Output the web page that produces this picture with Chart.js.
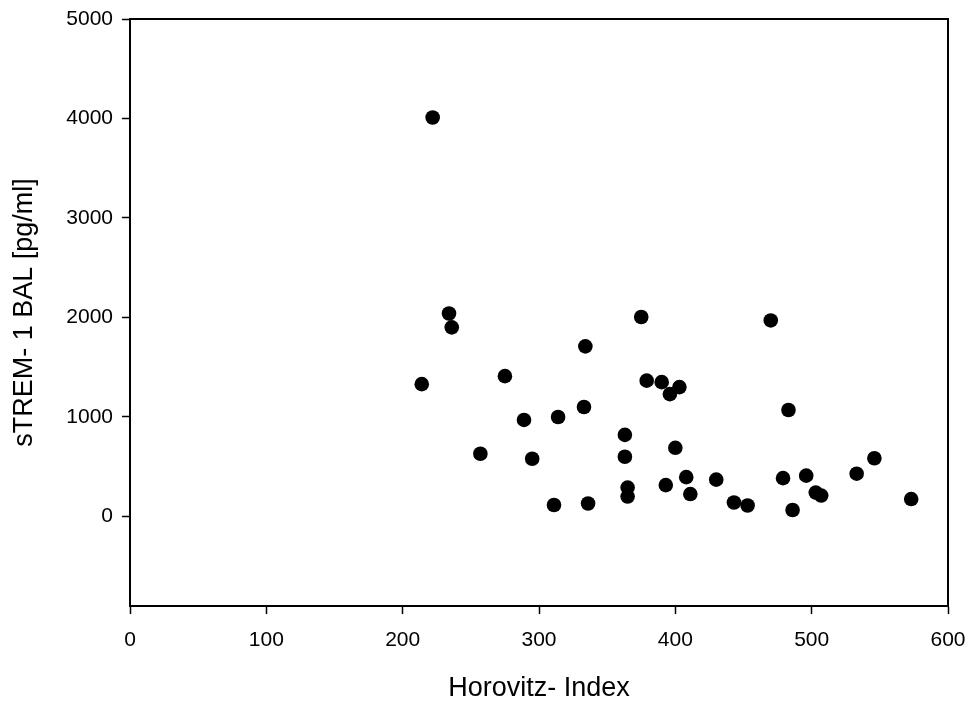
<!DOCTYPE html>
<html>
<head>
<meta charset="utf-8">
<script src="https://cdn.jsdelivr.net/npm/chart.js@4/dist/chart.umd.min.js"></script>
<style>
  body { margin: 0; background: #fff; }
</style>
</head>
<body>
<canvas id="scatter" width="968" height="702"></canvas>
<script>
// Horovitz index vs sTREM-1 in BAL
const horovitz = [222, 234, 236, 214, 275, 334, 289, 314, 333, 363,
                  363, 257, 295, 365, 365, 311, 336, 375, 470, 379,
                  390, 403, 396, 483, 400, 393, 408, 411, 430, 443,
                  453, 479, 496, 486, 503, 507, 533, 546, 573];
const strem = [4010, 2040, 1900, 1330, 1410, 1710, 970, 1000, 1100, 820,
               600, 630, 580, 290, 200, 115, 130, 2005, 1970, 1365,
               1350, 1300, 1230, 1070, 690, 315, 395, 225, 370, 140,
               110, 385, 410, 65, 240, 210, 430, 585, 175];

const xTicks = [0, 100, 200, 300, 400, 500, 600];
const yTicks = [0, 1000, 2000, 3000, 4000, 5000];

const xTitle = 'Horovitz- Index';
const yTitle = 'sTREM- 1 BAL [pg/ml]';

const FONT = "'Liberation Sans', Arial, sans-serif";

// box around the plot area (top and right sides too)
const frame = {
  id: 'frame',
  beforeDatasetsDraw(chart) {
    const { ctx, chartArea: a } = chart;
    ctx.save();
    ctx.strokeStyle = '#000';
    ctx.lineWidth = 2;
    ctx.strokeRect(a.left, a.top, a.right - a.left, a.bottom - a.top);
    ctx.restore();
  }
};

const points = horovitz.map((x, i) => ({ x: x, y: strem[i] }));

new Chart(document.getElementById('scatter'), {
  type: 'scatter',
  data: {
    datasets: [{
      data: points,
      backgroundColor: '#000',
      borderColor: '#000',
      borderWidth: 0,
      pointRadius: 7.3,
      pointHoverRadius: 7.3
    }]
  },
  options: {
    responsive: false,
    devicePixelRatio: 1,
    animation: false,
    layout: { padding: { top: 19, right: 20, left: 0, bottom: 0 } },
    plugins: { legend: { display: false }, tooltip: { enabled: false } },
    scales: {
      x: {
        type: 'linear',
        min: 0, max: 600,
        afterFit: s => { s.height = 96; s.paddingLeft = 0; s.paddingRight = 0; },
        afterBuildTicks: s => { s.ticks = xTicks.map(v => ({ value: v })); },
        ticks: { color: '#000', padding: 14, font: { family: FONT, size: 21 }, callback: v => String(v) },
        grid: { drawOnChartArea: false, drawTicks: true, tickLength: 8, tickWidth: 1.5, tickColor: '#000' },
        border: { display: true, color: '#000', width: 2 },
        title: {
          display: true, text: xTitle, color: '#000',
          font: { family: FONT, size: 27, lineHeight: 1 },
          padding: { top: 0, bottom: 0 }
        }
      },
      y: {
        type: 'linear',
        min: -900, max: 5000,
        afterFit: s => { s.width = 130; s.paddingTop = 0; s.paddingBottom = 0; },
        afterBuildTicks: s => { s.ticks = yTicks.map(v => ({ value: v })); },
        ticks: { color: '#000', padding: 9, font: { family: FONT, size: 21 }, callback: v => String(v) },
        grid: { drawOnChartArea: false, drawTicks: true, tickLength: 8, tickWidth: 1.5, tickColor: '#000' },
        border: { display: true, color: '#000', width: 2 },
        title: {
          display: true, text: yTitle, color: '#000',
          font: { family: FONT, size: 27, lineHeight: 1 },
          padding: { top: 11, bottom: 0 }
        }
      }
    }
  },
  plugins: [frame]
});
</script>
</body>
</html>
